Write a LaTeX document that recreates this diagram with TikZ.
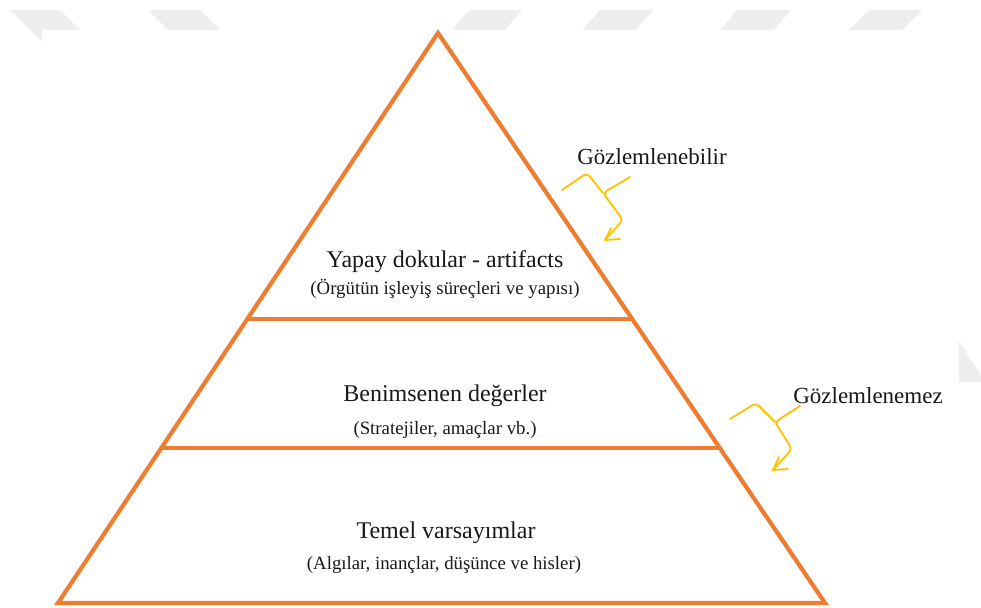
\documentclass[tikz,border=0pt]{standalone}
\usepackage{fontspec}
\setmainfont{Liberation Serif}
\definecolor{orangeline}{HTML}{ED7D31}
\definecolor{goldline}{HTML}{FFC000}
\definecolor{wmgray}{HTML}{EEEEEE}
\begin{document}
\begin{tikzpicture}[x=1pt,y=-1pt,
  tri/.style={draw=orangeline, line width=4.2pt, line join=miter},
  band/.style={draw=orangeline, line width=3.6pt},
  squig/.style={draw=goldline, line width=1.8pt, rounded corners=4pt, line cap=round, line join=round},
  wm/.style={fill=wmgray, draw=none},
  maintext/.style={anchor=base, font=\fontsize{24}{28}\selectfont, text=black!90},
  subtext/.style={anchor=base, font=\fontsize{18.8}{22}\selectfont, text=black!90},
  sidetext/.style={anchor=base, font=\fontsize{23}{27}\selectfont, text=black!90}
]
\useasboundingbox (0,0) rectangle (981,607);
% watermark
\fill[wm] (10,10) -- (60,10) -- (95,45) -- (45,45) -- cycle;
\fill[wm] (148,10) -- (200,10) -- (222,32) -- (170,32) -- cycle;
\fill[wm] (469,10) -- (522,10) -- (503,32) -- (450,32) -- cycle;
\fill[wm] (600,10) -- (653,10) -- (634,32) -- (581,32) -- cycle;
\fill[wm] (737,10) -- (791,10) -- (772,32) -- (719,32) -- cycle;
\fill[wm] (869,10) -- (922,10) -- (900,32) -- (847,32) -- cycle;
\fill[wm] (920,341) -- (959,341) -- (985,382) -- (946,382) -- cycle;
\fill[white] (42,30) rectangle (959,607);
% pyramid
\coordinate (apex) at (438,33);
\coordinate (bl) at (58,603);
\coordinate (br) at (825,603);
\coordinate (l1) at (247,319);
\coordinate (r1) at (632,319);
\coordinate (l2) at (161,448);
\coordinate (r2) at (720,448);
\draw[tri] (apex) -- (bl) -- (br) -- cycle;
\draw[band] (l1) -- (r1);
\draw[band] (l2) -- (r2);
% texts
\node[maintext] (t1) at (445,267) {Yapay dokular - artifacts};
\node[subtext] (s1) at (445,294) {(Örgütün işleyiş süreçleri ve yapısı)};
\node[maintext] (t2) at (445,401) {Benimsenen değerler};
\node[subtext] (s2) at (445,434) {(Stratejiler, amaçlar vb.)};
\node[maintext] (t3) at (446,538) {Temel varsayımlar};
\node[subtext] (s3) at (444,569) {(Algılar, inançlar, düşünce ve hisler)};
\node[sidetext] (g1) at (652,164) {Gözlemlenebilir};
\node[sidetext] (g2) at (868,403) {Gözlemlenemez};
% squiggly arrows
\draw[squig] (562,190) -- (587,173) -- (603,193);
\draw[squig] (630,177) -- (603,193) -- (609,201) -- (623,220) -- (605,240);
\draw[squig] (605,240) -- (620,239);
\draw[squig] (605,240) -- (611,228);
\draw[squig] (730,419) -- (756,403) -- (775,422);
\draw[squig] (800,406) -- (775,422) -- (780,430) -- (792,449) -- (773,470);
\draw[squig] (773,470) -- (788,469);
\draw[squig] (773,470) -- (779,457);
\end{tikzpicture}
\end{document}
